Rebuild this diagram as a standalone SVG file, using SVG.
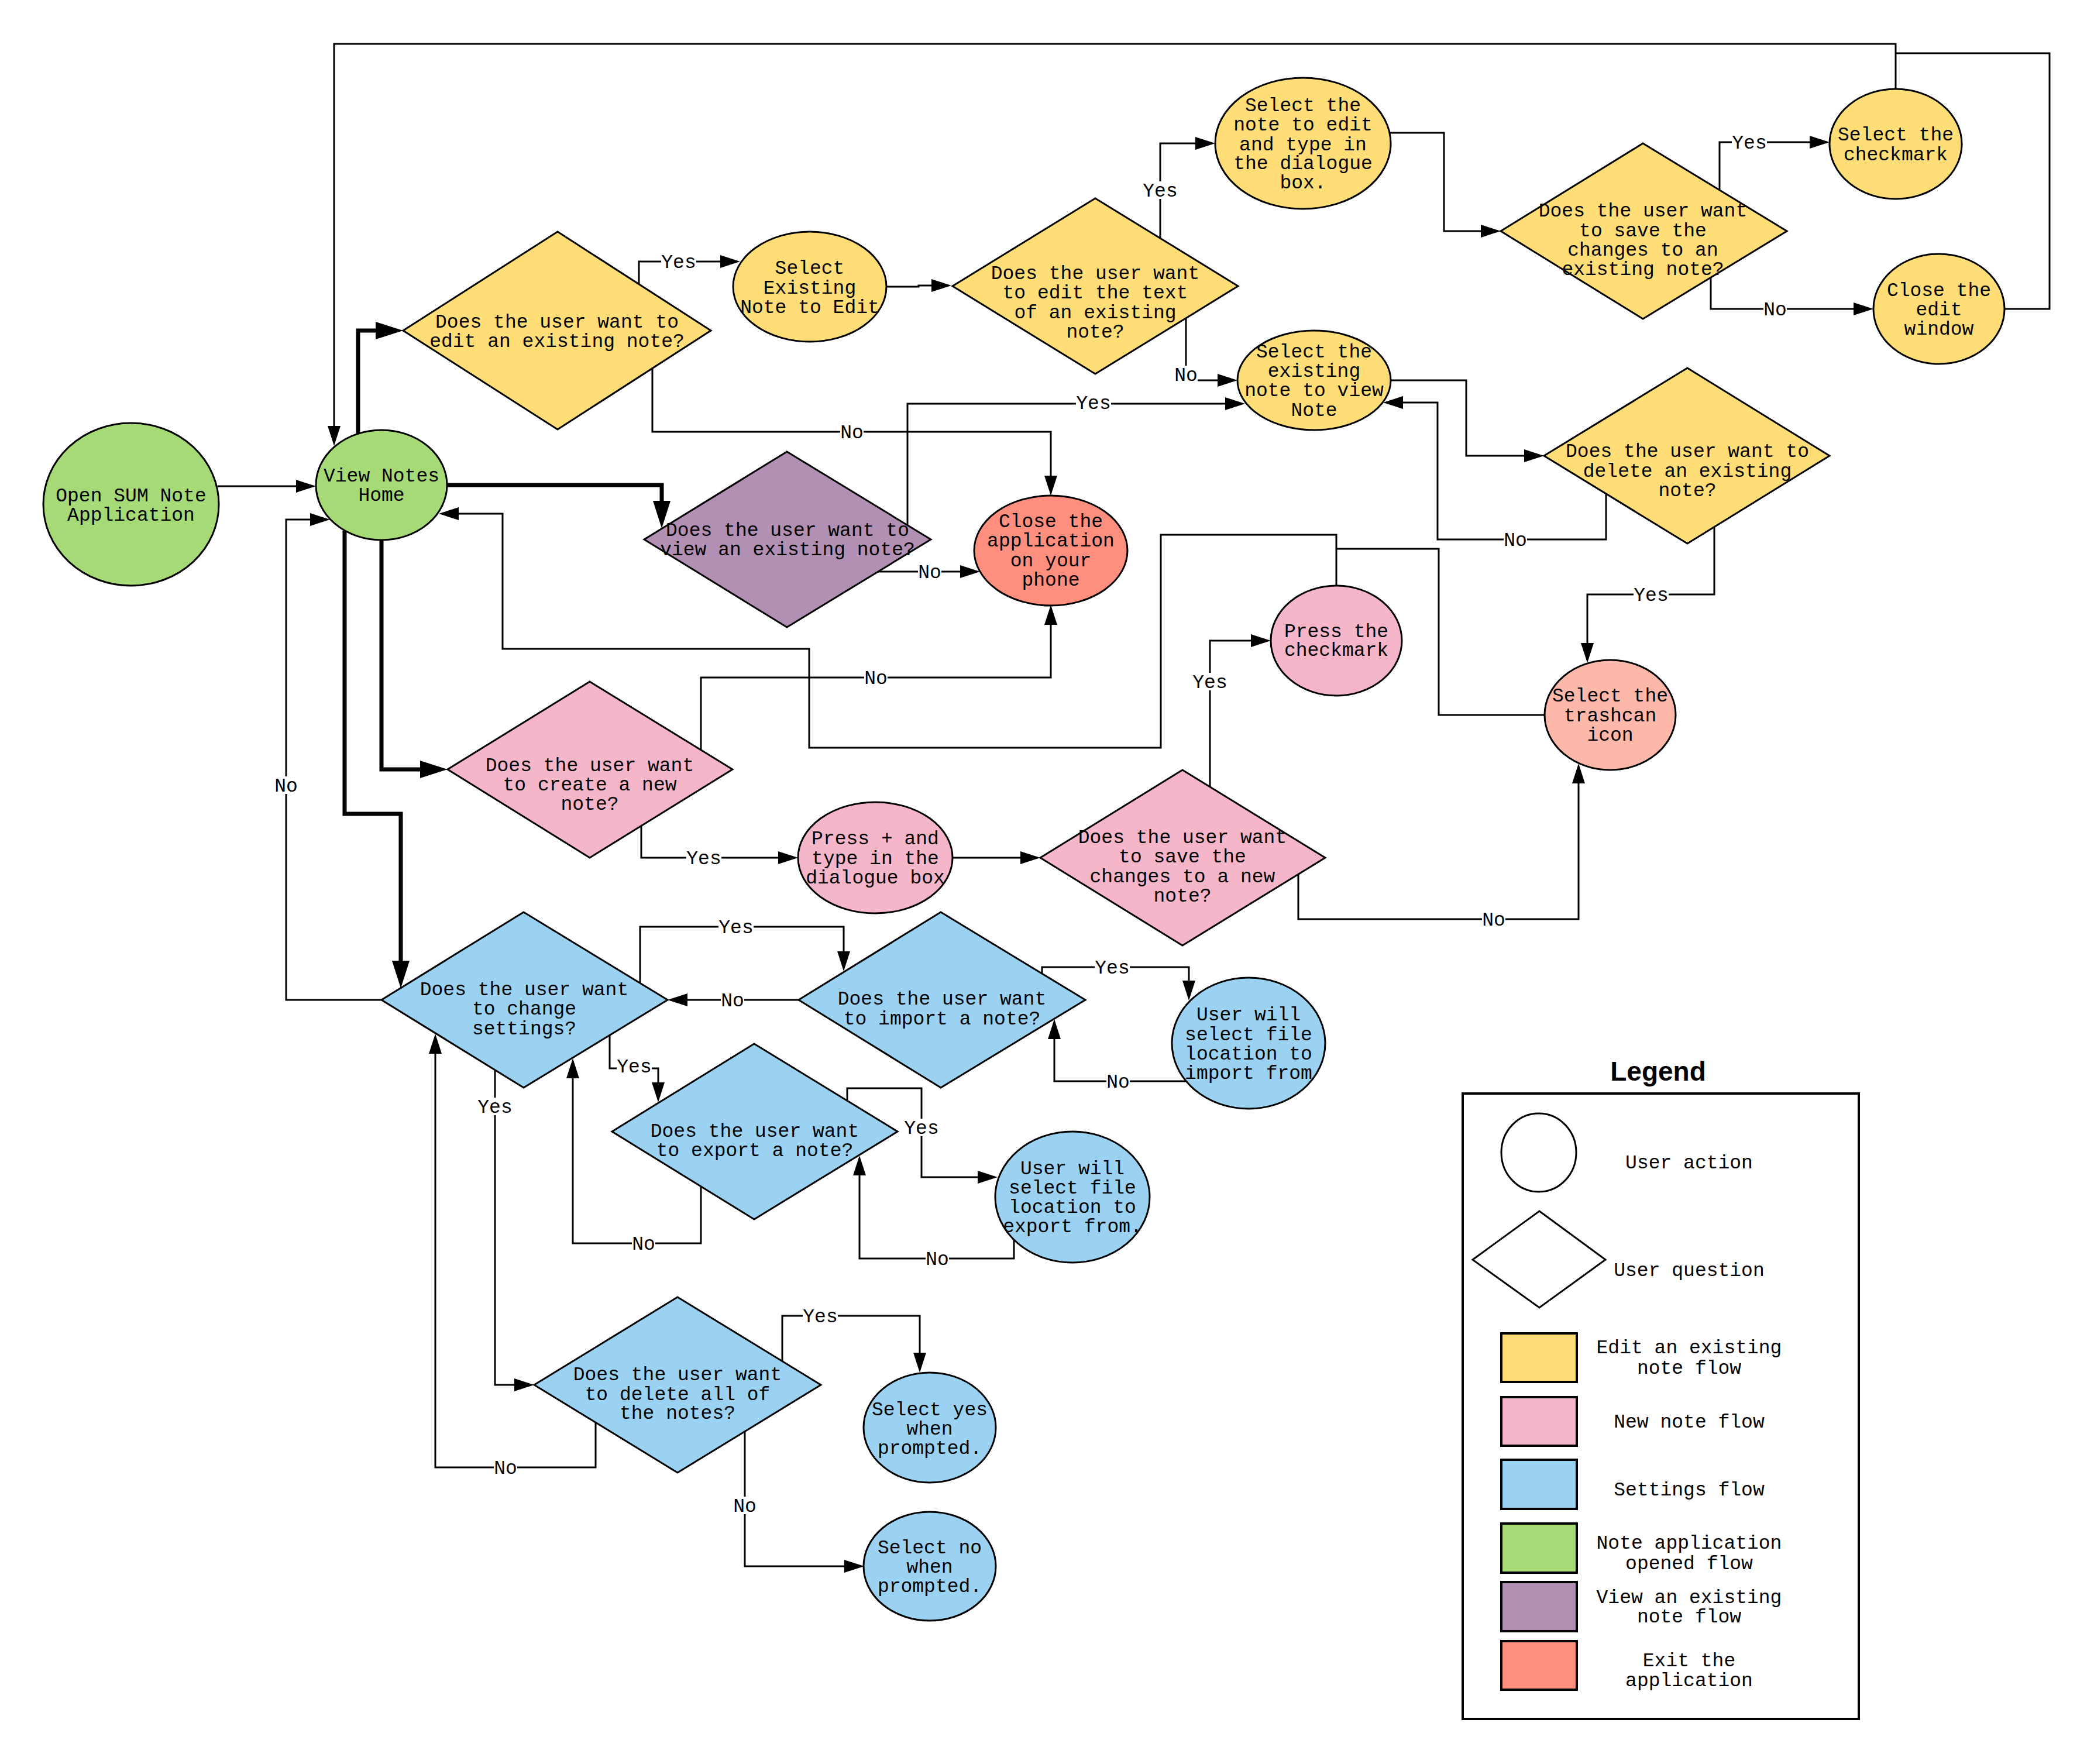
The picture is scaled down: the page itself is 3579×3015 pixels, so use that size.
<svg xmlns="http://www.w3.org/2000/svg" width="3579" height="3015" viewBox="0 0 3579 3015">
<style>
  .n { stroke: #000; stroke-width: 3; }
  .y { fill: #FFDD77; }
  .p { fill: #F4B6C8; }
  .b { fill: #9BD2F2; }
  .g { fill: #A6DA77; }
  .v { fill: #B190B3; }
  .r { fill: #FE8F7E; }
  .t { fill: #FDB8AA; }
  text { font-family: "Liberation Mono", "DejaVu Sans Mono", monospace; font-size: 33px; fill: #000; text-anchor: middle; }
  .e path { fill: none; stroke: #000; stroke-width: 3; }
  .e path.k { stroke-width: 7; }
  .lb rect { fill: #fff; }
  .lg .sw { stroke: #000; stroke-width: 4; }
</style>
<defs>
  <marker id="a" markerUnits="userSpaceOnUse" markerWidth="34" markerHeight="22" refX="29" refY="11" orient="auto">
    <path d="M0,0 L34,11 L0,22 z" fill="#000"/>
  </marker>
  <marker id="ak" markerUnits="userSpaceOnUse" markerWidth="47" markerHeight="30" refX="33" refY="15" orient="auto">
    <path d="M0,0 L47,15 L0,30 z" fill="#000"/>
  </marker>
</defs>
<rect width="3579" height="3015" fill="#fff"/>

<!-- connectors -->
<g id="connectors" class="e">
  <path d="M372,831 H535" marker-end="url(#a)"/>
  <path d="M3240,152 V75 H571 V757" marker-end="url(#a)"/>
  <path d="M3426,528 H3503 V91 H3240"/>
  <path class="k" d="M612,741 V565 H675" marker-end="url(#ak)"/>
  <path class="k" d="M765,829 H1131 V889" marker-end="url(#ak)"/>
  <path class="k" d="M652,922 V1315 H751" marker-end="url(#ak)"/>
  <path class="k" d="M589,907 V1391 H685 V1675" marker-end="url(#ak)"/>
  <path d="M652,1709 H489 V888 H559" marker-end="url(#a)"/>
  <path d="M2284,1001 V914 H1984 V1278 H1383 V1109 H859 V878 H755" marker-end="url(#a)"/>
  <path d="M2640,1222 H2459 V938 H2284"/>
  <path d="M1092,486 V447 H1260" marker-end="url(#a)"/>
  <path d="M1115,630 V738 H1796 V842" marker-end="url(#a)"/>
  <path d="M1515,490 H1570 V488 H1621" marker-end="url(#a)"/>
  <path d="M1983,407 V245 H2072" marker-end="url(#a)"/>
  <path d="M2027,544 V650 H2110" marker-end="url(#a)"/>
  <path d="M2375,227 H2468 V395 H2560" marker-end="url(#a)"/>
  <path d="M2939,325 V243 H3122" marker-end="url(#a)"/>
  <path d="M2924,474 V528 H3197" marker-end="url(#a)"/>
  <path d="M2378,650 H2506 V779 H2634" marker-end="url(#a)"/>
  <path d="M2745,844 V922 H2457 V688 H2369" marker-end="url(#a)"/>
  <path d="M2930,900 V1016 H2713 V1128" marker-end="url(#a)"/>
  <path d="M1551,898 V690 H2123" marker-end="url(#a)"/>
  <path d="M1497,977 H1670" marker-end="url(#a)"/>
  <path d="M1198,1282 V1158 H1796 V1039" marker-end="url(#a)"/>
  <path d="M1096,1412 V1466 H1359" marker-end="url(#a)"/>
  <path d="M1628,1466 H1773" marker-end="url(#a)"/>
  <path d="M2068,1345 V1095 H2167" marker-end="url(#a)"/>
  <path d="M2219,1494 V1571 H2698 V1310" marker-end="url(#a)"/>
  <path d="M1094,1680 V1584 H1442 V1655" marker-end="url(#a)"/>
  <path d="M1365,1709 H1146" marker-end="url(#a)"/>
  <path d="M1781,1664 V1653 H2032 V1705" marker-end="url(#a)"/>
  <path d="M2026,1848 H1802 V1747" marker-end="url(#a)"/>
  <path d="M1042,1769 V1826 H1125 V1879" marker-end="url(#a)"/>
  <path d="M1198,2028 V2125 H979 V1814" marker-end="url(#a)"/>
  <path d="M1448,1880 V1860 H1575 V2012 H1700" marker-end="url(#a)"/>
  <path d="M1733,2119 V2151 H1469 V1980" marker-end="url(#a)"/>
  <path d="M846,1829 V2367 H908" marker-end="url(#a)"/>
  <path d="M1018,2430 V2508 H744 V1772" marker-end="url(#a)"/>
  <path d="M1337,2327 V2249 H1572 V2341" marker-end="url(#a)"/>
  <path d="M1273,2447 V2677 H1472" marker-end="url(#a)"/>
</g>

<!-- connector labels -->
<g id="labels" class="lb">
  <rect x="1130" y="432" width="60" height="30"/><text x="1160" y="458">Yes</text>
  <rect x="1436" y="723" width="40" height="30"/><text x="1456" y="749">No</text>
  <rect x="1953" y="310" width="60" height="30"/><text x="1983" y="336">Yes</text>
  <rect x="2007" y="625" width="40" height="30"/><text x="2027" y="651">No</text>
  <rect x="2960" y="228" width="60" height="30"/><text x="2990" y="254">Yes</text>
  <rect x="3014" y="513" width="40" height="30"/><text x="3034" y="539">No</text>
  <rect x="2570" y="907" width="40" height="30"/><text x="2590" y="933">No</text>
  <rect x="2792" y="1001" width="60" height="30"/><text x="2822" y="1027">Yes</text>
  <rect x="1839" y="673" width="60" height="30"/><text x="1869" y="699">Yes</text>
  <rect x="1569" y="962" width="40" height="30"/><text x="1589" y="988">No</text>
  <rect x="1477" y="1143" width="40" height="30"/><text x="1497" y="1169">No</text>
  <rect x="1173" y="1451" width="60" height="30"/><text x="1203" y="1477">Yes</text>
  <rect x="2038" y="1150" width="60" height="30"/><text x="2068" y="1176">Yes</text>
  <rect x="2533" y="1556" width="40" height="30"/><text x="2553" y="1582">No</text>
  <rect x="1228" y="1569" width="60" height="30"/><text x="1258" y="1595">Yes</text>
  <rect x="1232" y="1694" width="40" height="30"/><text x="1252" y="1720">No</text>
  <rect x="1871" y="1638" width="60" height="30"/><text x="1901" y="1664">Yes</text>
  <rect x="1891" y="1833" width="40" height="30"/><text x="1911" y="1859">No</text>
  <rect x="1054" y="1807" width="60" height="30"/><text x="1084" y="1833">Yes</text>
  <rect x="1080" y="2110" width="40" height="30"/><text x="1100" y="2136">No</text>
  <rect x="1545" y="1912" width="60" height="30"/><text x="1575" y="1938">Yes</text>
  <rect x="1582" y="2136" width="40" height="30"/><text x="1602" y="2162">No</text>
  <rect x="816" y="1876" width="60" height="30"/><text x="846" y="1902">Yes</text>
  <rect x="844" y="2493" width="40" height="30"/><text x="864" y="2519">No</text>
  <rect x="1372" y="2234" width="60" height="30"/><text x="1402" y="2260">Yes</text>
  <rect x="1253" y="2558" width="40" height="30"/><text x="1273" y="2584">No</text>
  <rect x="469" y="1327" width="40" height="30"/><text x="489" y="1353">No</text>
</g>

<!-- nodes -->
<g id="open-app">
  <ellipse class="n g" cx="224" cy="862" rx="150" ry="139"/>
  <text x="224" y="857">Open SUM Note</text><text x="224" y="890">Application</text>
</g>
<g id="view-home">
  <ellipse class="n g" cx="652" cy="829" rx="112" ry="94"/>
  <text x="652" y="823">View Notes</text><text x="652" y="856">Home</text>
</g>
<g id="q-edit">
  <polygon class="n y" points="953,396 1215,565 953,734 689,565"/>
  <text x="952" y="560">Does the user want to</text><text x="952" y="593">edit an existing note?</text>
</g>
<g id="select-existing">
  <ellipse class="n y" cx="1384" cy="490" rx="131" ry="94"/>
  <text x="1384" y="468">Select</text><text x="1384" y="502">Existing</text><text x="1384" y="535">Note to Edit</text>
</g>
<g id="q-edit-text">
  <polygon class="n y" points="1872,339 2116,489 1872,639 1628,489"/>
  <text x="1872" y="477">Does the user want</text><text x="1872" y="510">to edit the text</text><text x="1872" y="544">of an existing</text><text x="1872" y="577">note?</text>
</g>
<g id="select-note-type">
  <ellipse class="n y" cx="2227" cy="245" rx="150" ry="112"/>
  <text x="2227" y="190">Select the</text><text x="2227" y="223">note to edit</text><text x="2227" y="257">and type in</text><text x="2227" y="289">the dialogue</text><text x="2227" y="322">box.</text>
</g>
<g id="q-save-existing">
  <polygon class="n y" points="2808,245 3054,395 2808,545 2565,395"/>
  <text x="2808" y="370">Does the user want</text><text x="2808" y="404">to save the</text><text x="2808" y="437">changes to an</text><text x="2808" y="470">existing note?</text>
</g>
<g id="select-checkmark">
  <ellipse class="n y" cx="3240" cy="246" rx="113" ry="94"/>
  <text x="3240" y="240">Select the</text><text x="3240" y="274">checkmark</text>
</g>
<g id="close-edit">
  <ellipse class="n y" cx="3314" cy="528" rx="112" ry="94"/>
  <text x="3314" y="506">Close the</text><text x="3314" y="539">edit</text><text x="3314" y="572">window</text>
</g>
<g id="select-view">
  <ellipse class="n y" cx="2246" cy="650" rx="131" ry="85"/>
  <text x="2246" y="611">Select the</text><text x="2246" y="644">existing</text><text x="2246" y="677">note to view</text><text x="2246" y="711">Note</text>
</g>
<g id="q-delete">
  <polygon class="n y" points="2884,629 3127,779 2884,929 2639,779"/>
  <text x="2884" y="781">Does the user want to</text><text x="2884" y="815">delete an existing</text><text x="2884" y="848">note?</text>
</g>
<g id="q-view">
  <polygon class="n v" points="1345,772 1591,922 1345,1072 1101,922"/>
  <text x="1346" y="916">Does the user want to</text><text x="1346" y="949">view an existing note?</text>
</g>
<g id="close-app">
  <ellipse class="n r" cx="1796" cy="941" rx="131" ry="94"/>
  <text x="1796" y="901">Close the</text><text x="1796" y="934">application</text><text x="1796" y="968">on your</text><text x="1796" y="1001">phone</text>
</g>
<g id="press-checkmark">
  <ellipse class="n p" cx="2284" cy="1095" rx="112" ry="94"/>
  <text x="2284" y="1089">Press the</text><text x="2284" y="1121">checkmark</text>
</g>
<g id="trashcan">
  <ellipse class="n t" cx="2752" cy="1222" rx="112" ry="94"/>
  <text x="2752" y="1199">Select the</text><text x="2752" y="1233">trashcan</text><text x="2752" y="1266">icon</text>
</g>
<g id="q-create">
  <polygon class="n p" points="1008,1165 1252,1315 1008,1466 765,1315"/>
  <text x="1008" y="1318">Does the user want</text><text x="1008" y="1351">to create a new</text><text x="1008" y="1384">note?</text>
</g>
<g id="press-plus">
  <ellipse class="n p" cx="1496" cy="1466" rx="132" ry="95"/>
  <text x="1496" y="1443">Press + and</text><text x="1496" y="1477">type in the</text><text x="1496" y="1510">dialogue box</text>
</g>
<g id="q-save-new">
  <polygon class="n p" points="2021,1316 2265,1466 2021,1616 1778,1466"/>
  <text x="2021" y="1441">Does the user want</text><text x="2021" y="1474">to save the</text><text x="2021" y="1508">changes to a new</text><text x="2021" y="1541">note?</text>
</g>
<g id="q-settings">
  <polygon class="n b" points="895,1559 1141,1709 895,1859 652,1709"/>
  <text x="896" y="1701">Does the user want</text><text x="896" y="1734">to change</text><text x="896" y="1768">settings?</text>
</g>
<g id="q-import">
  <polygon class="n b" points="1608,1559 1855,1709 1608,1859 1365,1709"/>
  <text x="1610" y="1717">Does the user want</text><text x="1610" y="1751">to import a note?</text>
</g>
<g id="import-file">
  <ellipse class="n b" cx="2134" cy="1783" rx="131" ry="112"/>
  <text x="2134" y="1744">User will</text><text x="2134" y="1778">select file</text><text x="2134" y="1811">location to</text><text x="2134" y="1844">import from</text>
</g>
<g id="q-export">
  <polygon class="n b" points="1289,1784 1534,1934 1289,2084 1046,1934"/>
  <text x="1290" y="1943">Does the user want</text><text x="1290" y="1976">to export a note?</text>
</g>
<g id="export-file">
  <ellipse class="n b" cx="1833" cy="2046" rx="132" ry="112"/>
  <text x="1833" y="2007">User will</text><text x="1833" y="2040">select file</text><text x="1833" y="2073">location to</text><text x="1833" y="2106">export from.</text>
</g>
<g id="q-delete-all">
  <polygon class="n b" points="1158,2217 1403,2367 1158,2517 913,2367"/>
  <text x="1158" y="2359">Does the user want</text><text x="1158" y="2393">to delete all of</text><text x="1158" y="2425">the notes?</text>
</g>
<g id="select-yes">
  <ellipse class="n b" cx="1589" cy="2440" rx="113" ry="94"/>
  <text x="1589" y="2419">Select yes</text><text x="1589" y="2452">when</text><text x="1589" y="2485">prompted.</text>
</g>
<g id="select-no">
  <ellipse class="n b" cx="1589" cy="2677" rx="113" ry="93"/>
  <text x="1589" y="2655">Select no</text><text x="1589" y="2688">when</text><text x="1589" y="2721">prompted.</text>
</g>

<!-- legend -->
<g id="legend" class="lg">
  <text x="2834" y="1847" style="font-family:'Liberation Sans',Arial,sans-serif;font-weight:bold;font-size:46px">Legend</text>
  <rect x="2500" y="1869" width="677" height="1069" fill="none" stroke="#000" stroke-width="4"/>
  <ellipse cx="2630" cy="1970" rx="64" ry="67" fill="#fff" stroke="#000" stroke-width="3"/>
  <polygon points="2631,2070 2744,2153 2631,2235 2517,2153" fill="#fff" stroke="#000" stroke-width="3"/>
  <rect class="sw y" x="2566" y="2279" width="129" height="83"/>
  <rect class="sw p" x="2566" y="2388" width="129" height="83"/>
  <rect class="sw b" x="2566" y="2495" width="129" height="84"/>
  <rect class="sw g" x="2566" y="2604" width="129" height="84"/>
  <rect class="sw v" x="2566" y="2704" width="129" height="84"/>
  <rect class="sw r" x="2566" y="2805" width="129" height="83"/>
  <text x="2887" y="1997">User action</text>
  <text x="2887" y="2181">User question</text>
  <text x="2887" y="2313">Edit an existing</text><text x="2887" y="2348">note flow</text>
  <text x="2887" y="2440">New note flow</text>
  <text x="2887" y="2556">Settings flow</text>
  <text x="2887" y="2647">Note application</text><text x="2887" y="2682">opened flow</text>
  <text x="2887" y="2740">View an existing</text><text x="2887" y="2773">note flow</text>
  <text x="2887" y="2848">Exit the</text><text x="2887" y="2882">application</text>
</g>
</svg>
